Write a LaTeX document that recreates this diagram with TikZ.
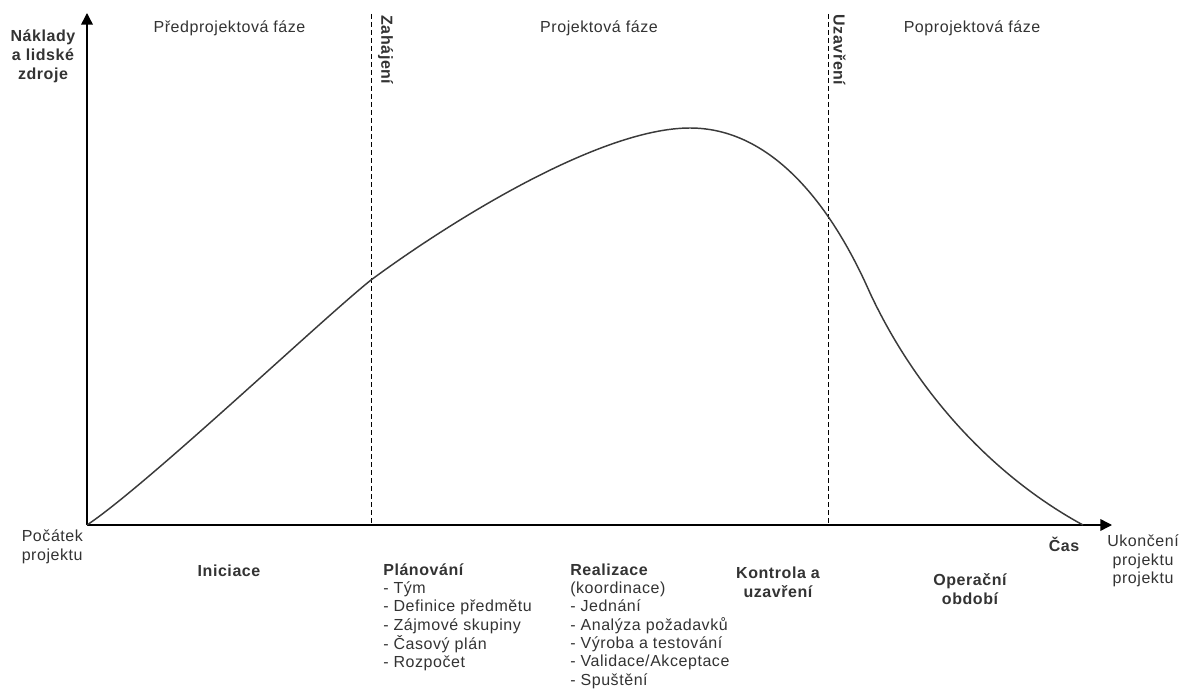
\documentclass[tikz,border=0pt]{standalone}
\usepackage{fontspec}
\setmainfont{Liberation Sans}[LetterSpace=3.5]
\usetikzlibrary{arrows.meta}
\definecolor{ink}{HTML}{333333}
\definecolor{curvecol}{HTML}{3A3A3A}
% stacked lines whose baseline is that of the first line
\newcommand\rows[2]{\begin{tabular}[t]{@{}#1@{}}#2\end{tabular}}
\begin{document}
\begin{tikzpicture}[x=0.75pt,y=-0.75pt,
  lbl/.style={inner sep=0pt, text=ink, font=\fontsize{12}{13.75}\selectfont},
  bold/.style={inner sep=0pt, text=ink, font=\fontsize{12}{14.25}\selectfont\bfseries},
  axis/.style={draw=black, line width=1.1pt, -{Triangle[length=8.8pt,width=8.8pt]}},
  phaseline/.style={draw=black, line width=0.75pt, dash pattern=on 3.5pt off 2.5pt},
  curve/.style={draw=curvecol, line width=1.1pt, line join=round}]
\fill[white] (0,0) rectangle (1182,699);
\useasboundingbox (0,0) rectangle (1182,699);

% axes
\coordinate (O) at (87,525);
\coordinate (ytip) at (87,13);
\coordinate (xtip) at (1112,525);
\draw[axis] (O) -- (ytip);
\draw[axis] (O) -- (xtip);

% phase boundaries
\coordinate (zt) at (371,14);
\coordinate (zb) at (371,525);
\coordinate (ut) at (828,14);
\coordinate (ub) at (828,525);
\draw[phaseline] (zt) -- (zb);
\draw[phaseline] (ut) -- (ub);

% cost / resources curve
\coordinate (c1) at (371,280);
\coordinate (peak) at (690,128);
\coordinate (c3) at (870,293);
\coordinate (cend) at (1083,525);
\draw[curve] (O)
  .. controls (147,485) and (321,320) .. (c1)
  .. controls (451,221) and (600,128) .. (peak)
  .. controls (770,128) and (830,202) .. (c3)
  .. controls (920,400) and (1000,480) .. (cend);

% axis captions
\node[bold, anchor=base] (ylab) at (43,41.7) {\rows{c}{Náklady\\a lidské\\zdroje}};
\node[bold, anchor=base] (cas) at (1064,551.7) {Čas};
\node[lbl, anchor=base west] (start) at (21.5,541.7) {\rows{l}{Počátek\\projektu}};
\node[lbl, anchor=base] (end) at (1143,546.7) {\rows{c}{Ukončení\\projektu\\projektu}};

% phase titles
\node[lbl, anchor=base] (pre) at (229.5,33) {Předprojektová fáze};
\node[lbl, anchor=base] (proj) at (599,33) {Projektová fáze};
\node[lbl, anchor=base] (post) at (972,33) {Poprojektová fáze};
\node[bold, rotate=-90] (zah) at (385.5,50) {Zahájení};
\node[bold, rotate=-90] (uza) at (839.5,50) {Uzavření};

% stages
\node[bold, anchor=base] (ini) at (229,576) {Iniciace};
\node[lbl, anchor=base west] (plan) at (383,575)
  {\rows{l}{\textbf{Plánování}\\- Tým\\- Definice předmětu\\- Zájmové skupiny\\- Časový plán\\- Rozpočet}};
\node[lbl, anchor=base west] (real) at (570,575)
  {\rows{l}{\textbf{Realizace}\\(koordinace)\\- Jednání\\- Analýza požadavků\\- Výroba a testování\\- Validace/Akceptace\\- Spuštění}};
\node[bold, anchor=base] (kon) at (778,578) {\rows{c}{Kontrola a\\uzavření}};
\node[bold, anchor=base] (ope) at (970,585) {\rows{c}{Operační\\období}};
\end{tikzpicture}
\end{document}
